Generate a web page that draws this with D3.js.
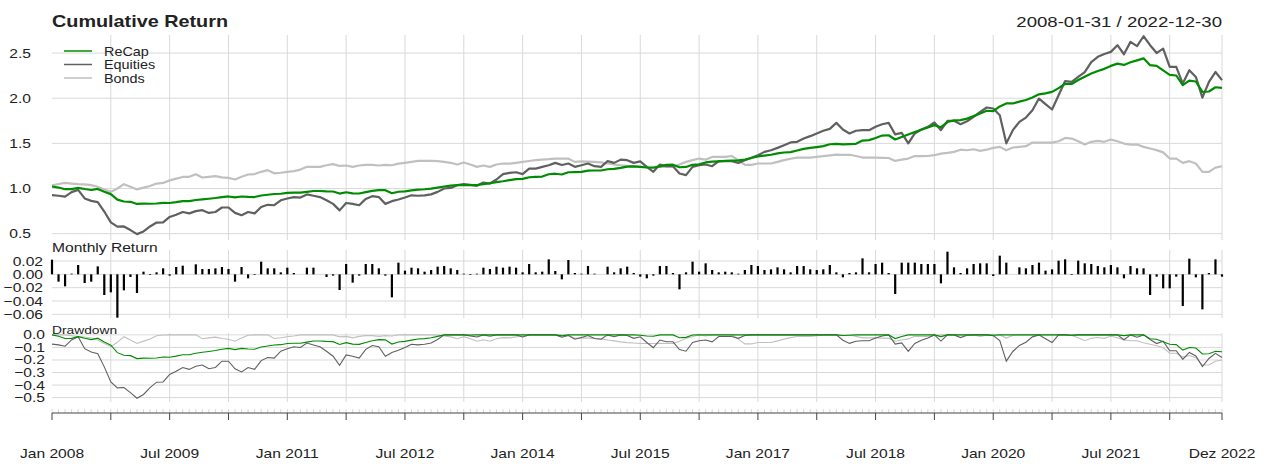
<!DOCTYPE html>
<html>
<head>
<meta charset="utf-8">
<script src="https://cdn.jsdelivr.net/npm/d3@7"></script>
<style>
body { margin: 0; background: #fff; }
svg { display: block; }
text { font-family: "Liberation Sans", Arial, sans-serif; fill: #222; }
</style>
</head>
<body>
<svg id="chart" width="1264" height="464"></svg>
<script>
// series names and colours
const seriesNames = ['ReCap', 'Equities', 'Bonds'];
const seriesColors = ['#008c00', '#606060', '#c0c0c0'];

// ReCap monthly returns, Jan 2008 .. Dec 2022
const recapReturns = [
  0.022, -0.011, -0.018, 0.001, 0.014, -0.013, -0.011, 0.012, -0.031, -0.027,
  -0.065, -0.024, -0.004, -0.028, 0.004, -0.001, 0.003, 0.009, -0.002, 0.011,
  0.013, 0.000, 0.015, 0.008, 0.008, 0.009, 0.011, 0.008, -0.011, 0.011,
  -0.006, -0.001, 0.019, 0.009, 0.009, 0.003, 0.010, 0.002, 0.000, 0.010,
  0.010, 0.000, -0.004, -0.002, -0.0235, 0.0155, -0.0125, -0.002, 0.0155, 0.0155,
  0.009, -0.002, -0.0345, 0.0175, 0.0055, 0.010, 0.009, 0.004, 0.0065, 0.0115,
  0.0125, 0.009, 0.0065, 0.001, -0.001, 0.001, 0.010, 0.008, 0.0115, 0.010,
  0.0115, 0.010, 0.003, 0.0155, 0.003, 0.004, 0.0225, 0.005, -0.0075, 0.0215,
  0.002, 0.001, 0.0125, 0.001, 0.000, 0.0115, 0.003, 0.009, 0.0115, 0.002,
  -0.0035, -0.006, -0.002, 0.0125, 0.0125, 0.002, -0.0225, 0.003, 0.019, 0.004,
  0.0165, 0.0065, 0.003, 0.004, 0.003, 0.001, 0.0065, 0.014, 0.0125, 0.0065,
  0.0075, 0.0105, 0.0075, 0.003, 0.0125, 0.0125, 0.0075, 0.0065, 0.0075, 0.014,
  0.003, -0.0045, 0.002, 0.003, 0.024, 0.003, 0.0155, 0.0175, 0.002, -0.0295,
  0.0175, 0.0175, 0.0175, 0.0155, 0.0155, 0.0155, -0.0135, 0.034, 0.0105, 0.002,
  0.009, 0.0155, 0.0165, 0.0165, -0.0025, 0.028, 0.0175, 0.000, 0.0105, 0.009,
  0.014, 0.0175, 0.0055, 0.0075, 0.0205, 0.0225, -0.001, 0.0205, 0.0165, 0.0155,
  0.0125, 0.0105, 0.014, 0.0105, -0.006, 0.0125, 0.009, 0.009, -0.031, -0.0035,
  -0.021, -0.021, -0.0035, -0.0475, 0.0235, -0.0045, -0.0525, 0.002, 0.0225, -0.0035
];

// Equities growth of 1
const equitiesIndex = [
  0.926, 0.920, 0.910, 0.960, 0.985, 0.890, 0.863, 0.850, 0.745, 0.625,
  0.578, 0.580, 0.540, 0.495, 0.525, 0.580, 0.623, 0.625, 0.685, 0.710,
  0.740, 0.725, 0.750, 0.760, 0.730, 0.740, 0.790, 0.790, 0.730, 0.705,
  0.740, 0.725, 0.795, 0.820, 0.815, 0.870, 0.890, 0.905, 0.900, 0.935,
  0.920, 0.905, 0.870, 0.830, 0.758, 0.840, 0.830, 0.815, 0.885, 0.915,
  0.905, 0.830, 0.860, 0.878, 0.900, 0.925, 0.920, 0.925, 0.935, 0.963,
  1.000, 1.007, 1.037, 1.048, 1.040, 1.030, 1.066, 1.055, 1.100, 1.160,
  1.173, 1.180, 1.160, 1.220, 1.220, 1.240, 1.258, 1.284, 1.260, 1.277,
  1.240, 1.258, 1.277, 1.247, 1.240, 1.303, 1.284, 1.320, 1.314, 1.284,
  1.300, 1.240, 1.185, 1.266, 1.247, 1.247, 1.166, 1.148, 1.240, 1.258,
  1.266, 1.247, 1.303, 1.303, 1.303, 1.284, 1.314, 1.340, 1.369, 1.406,
  1.424, 1.450, 1.480, 1.510, 1.517, 1.553, 1.580, 1.610, 1.640, 1.660,
  1.727, 1.653, 1.610, 1.640, 1.646, 1.646, 1.683, 1.712, 1.727, 1.600,
  1.616, 1.500, 1.610, 1.653, 1.683, 1.731, 1.646, 1.750, 1.750, 1.712,
  1.745, 1.793, 1.849, 1.897, 1.886, 1.812, 1.500, 1.646, 1.738, 1.786,
  1.867, 1.996, 1.934, 1.875, 2.033, 2.190, 2.180, 2.236, 2.290, 2.400,
  2.458, 2.490, 2.513, 2.587, 2.487, 2.624, 2.576, 2.686, 2.587, 2.500,
  2.550, 2.347, 2.347, 2.162, 2.310, 2.236, 2.007, 2.180, 2.290, 2.200
];

// Bonds growth of 1
const bondsIndex = [
  1.035, 1.050, 1.063, 1.055, 1.048, 1.045, 1.037, 1.020, 0.990, 0.963,
  1.000, 1.048, 1.020, 0.990, 1.010, 1.028, 1.055, 1.062, 1.090, 1.110,
  1.128, 1.130, 1.158, 1.122, 1.130, 1.137, 1.124, 1.118, 1.100, 1.130,
  1.155, 1.160, 1.185, 1.203, 1.168, 1.175, 1.185, 1.192, 1.210, 1.240,
  1.240, 1.240, 1.258, 1.270, 1.250, 1.255, 1.240, 1.255, 1.262, 1.262,
  1.255, 1.262, 1.258, 1.275, 1.285, 1.295, 1.306, 1.306, 1.306, 1.303,
  1.295, 1.285, 1.266, 1.288, 1.266, 1.240, 1.255, 1.240, 1.266, 1.277,
  1.275, 1.285, 1.295, 1.305, 1.314, 1.321, 1.325, 1.332, 1.332, 1.330,
  1.295, 1.300, 1.298, 1.295, 1.290, 1.277, 1.268, 1.258, 1.250, 1.245,
  1.240, 1.240, 1.240, 1.242, 1.240, 1.240, 1.265, 1.295, 1.315, 1.332,
  1.320, 1.350, 1.350, 1.350, 1.360, 1.314, 1.262, 1.262, 1.277, 1.277,
  1.277, 1.295, 1.314, 1.330, 1.343, 1.343, 1.343, 1.350, 1.358, 1.368,
  1.376, 1.372, 1.374, 1.360, 1.343, 1.343, 1.343, 1.340, 1.338, 1.306,
  1.320, 1.332, 1.360, 1.358, 1.360, 1.369, 1.387, 1.395, 1.406, 1.430,
  1.424, 1.435, 1.417, 1.430, 1.450, 1.461, 1.424, 1.454, 1.461, 1.469,
  1.509, 1.509, 1.509, 1.509, 1.524, 1.560, 1.553, 1.524, 1.487, 1.517,
  1.528, 1.517, 1.542, 1.524, 1.498, 1.487, 1.487, 1.461, 1.443, 1.425,
  1.400, 1.332, 1.332, 1.284, 1.303, 1.277, 1.185, 1.185, 1.232, 1.247
];

// x axis: month index of ticks and labelled ticks
const tickMonths = [0, 9, 18, 27, 36, 45, 54, 63, 72, 81, 90, 99, 108, 117, 126, 135, 144, 153, 162, 171, 179];
const labelMonths = [0, 18, 36, 54, 72, 90, 108, 126, 144, 162, 179];
const tickLabels = ['Jan 2008', 'Jul 2009', 'Jan 2011', 'Jul 2012', 'Jan 2014', 'Jul 2015',
                    'Jan 2017', 'Jul 2018', 'Jan 2020', 'Jul 2021', 'Dez 2022'];

const cumTicks = [0.5, 1.0, 1.5, 2.0, 2.5];
const retTicks = [0.02, 0.00, -0.02, -0.04, -0.06];
const ddTicks = [0.0, -0.1, -0.2, -0.3, -0.4, -0.5];

// derived series, the way PerformanceAnalytics builds them
const recapIndex = [];
recapReturns.reduce((acc, r) => { const v = acc * (1 + r); recapIndex.push(v); return v; }, 1);

function drawdown(idx) {
    let peak = 1;
    return idx.map(v => { peak = Math.max(peak, v); return v / peak - 1; });
}

const levels = [recapIndex, equitiesIndex, bondsIndex];
const drawdowns = levels.map(drawdown);

const svg = d3.select('#chart');
const SX = 1.2; // the reference text is stretched horizontally

function txt(x, y, s, size, anchor, weight) {
    return svg.append('text')
        .attr('transform', `translate(${x},${y}) scale(${SX},1)`)
        .attr('text-anchor', anchor || 'start')
        .attr('font-size', size)
        .attr('font-weight', weight || 'normal')
        .text(s);
}

const x = d3.scaleLinear().domain([0, 179]).range([52, 1222]);
const yCum = d3.scaleLinear().domain([0.43, 2.70]).range([240, 35]);
const yRet = d3.scaleLinear().domain([-0.0655, 0.0365]).range([318, 250]);
const yDD = d3.scaleLinear().domain([-0.535, 0.015]).range([402, 333]);

const grid = '#d9d9d9';

// vertical grid lines in every panel
[[35, 240], [250, 318], [333, 402]].forEach(([top, bot]) => {
    svg.append('g').selectAll('line')
        .data(tickMonths.slice(1))
        .join('line')
        .attr('x1', d => x(d)).attr('x2', d => x(d))
        .attr('y1', top).attr('y2', bot)
        .attr('stroke', grid).attr('stroke-width', 1);
});

function hGrid(scale, ticks, labelRight, fmt) {
    svg.append('g').selectAll('line')
        .data(ticks)
        .join('line')
        .attr('x1', 52).attr('x2', 1222)
        .attr('y1', d => scale(d)).attr('y2', d => scale(d))
        .attr('stroke', grid).attr('stroke-width', 1);
    ticks.forEach(t => txt(labelRight, scale(t) + 4.5, fmt(t), 13, 'end'));
}
hGrid(yCum, cumTicks, 31, d3.format('.1f'));
hGrid(yRet, retTicks, 43, d3.format('.2f'));
hGrid(yDD, ddTicks, 45, d3.format('.1f'));

// titles
txt(52, 27, 'Cumulative Return', 16.5, 'start', 'bold');
txt(1222, 27, '2008-01-31 / 2022-12-30', 15.5, 'end');
txt(52, 252, 'Monthly Return', 13, 'start');
txt(52, 334, 'Drawdown', 11.5, 'start');

// cumulative lines, bonds first so ReCap sits on top
const lineCum = d3.line().x((d, i) => x(i)).y(d => yCum(d));
[2, 1, 0].forEach(k => {
    svg.append('path')
        .datum(levels[k])
        .attr('d', lineCum)
        .attr('fill', 'none')
        .attr('stroke', seriesColors[k])
        .attr('stroke-width', 2.2)
        .attr('stroke-linejoin', 'round');
});

// legend
const legend = svg.append('g');
seriesNames.forEach((name, k) => {
    const ly = 51 + k * 13.5;
    legend.append('line')
        .attr('x1', 64).attr('x2', 92).attr('y1', ly).attr('y2', ly)
        .attr('stroke', seriesColors[k]).attr('stroke-width', 1.5);
    txt(104, ly + 4.5, name, 12, 'start');
});

// monthly return bars
svg.append('g').selectAll('rect')
    .data(recapReturns)
    .join('rect')
    .attr('x', (d, i) => x(i) - 1.1)
    .attr('width', 2.2)
    .attr('y', d => yRet(Math.max(0, d)))
    .attr('height', d => Math.abs(yRet(d) - yRet(0)))
    .attr('fill', '#000');

// drawdown lines
const lineDD = d3.line().x((d, i) => x(i)).y(d => yDD(d));
[2, 1, 0].forEach(k => {
    svg.append('path')
        .datum(drawdowns[k])
        .attr('d', lineDD)
        .attr('fill', 'none')
        .attr('stroke', seriesColors[k])
        .attr('stroke-width', 1.1);
});

// bottom time axis
const axisY = 413;
svg.append('g').selectAll('line')
    .data(d3.range(0, 180))
    .join('line')
    .attr('x1', d => x(d)).attr('x2', d => x(d))
    .attr('y1', axisY - 4).attr('y2', axisY)
    .attr('stroke', '#cfcfcf').attr('stroke-width', 0.8);
svg.append('line')
    .attr('x1', 52).attr('x2', 1222).attr('y1', axisY).attr('y2', axisY)
    .attr('stroke', '#444').attr('stroke-width', 1);
svg.append('g').selectAll('line')
    .data(tickMonths)
    .join('line')
    .attr('x1', d => x(d)).attr('x2', d => x(d))
    .attr('y1', axisY).attr('y2', axisY + 7)
    .attr('stroke', '#444').attr('stroke-width', 1);
labelMonths.forEach((m, j) => txt(x(m), 458, tickLabels[j], 13, 'middle'));
</script>
</body>
</html>
